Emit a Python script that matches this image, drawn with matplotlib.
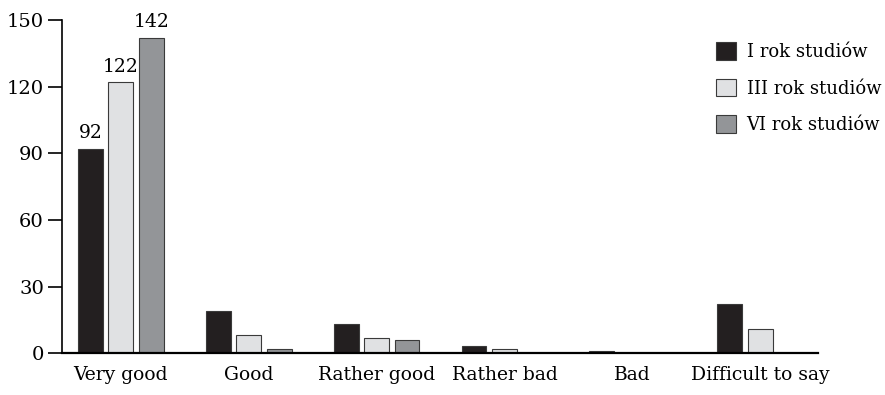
import numpy as np
import matplotlib.pyplot as plt

categories = ['Very good', 'Good', 'Rather good', 'Rather bad', 'Bad', 'Difficult to say']
rok_1 = [92, 19, 13, 3, 1, 22]
rok_3 = [122, 8, 7, 2, 0, 11]
rok_6 = [142, 2, 6, 0, 0, 0]
series_names = ['I rok studiów', 'III rok studiów', 'VI rok studiów']
colors = ['#231f20', '#e0e1e3', '#939598']

plt.rcParams['font.family'] = ['DejaVu Serif']

fig = plt.figure(figsize=(8.85, 3.95), dpi=100)
ax = fig.add_axes([0.070, 0.106, 0.854, 0.843])

x = np.arange(len(categories))
width = 0.195
step = 0.238
for i, (vals, name, col) in enumerate(zip([rok_1, rok_3, rok_6], series_names, colors)):
    pos = x + (i - 1) * step
    ax.bar(pos, vals, width, color=col, edgecolor='#3a3a3a', linewidth=0.8, label=name)
    # only the big group has value labels
    ax.text(pos[0], vals[0] + 3, str(vals[0]), ha='center', va='bottom', fontsize=13.5)

ax.set_xlim(-0.46, 5.45)
ax.set_ylim(0, 150)
ax.set_yticks([0, 30, 60, 90, 120, 150])
ax.set_xticks(x)
ax.set_xticklabels(categories, fontsize=13.5)
ax.tick_params(axis='y', labelsize=14, length=10, width=1.2, direction='out', pad=3)
ax.tick_params(axis='x', length=0, pad=9)
ax.spines['top'].set_visible(False)
ax.spines['right'].set_visible(False)
ax.spines['left'].set_linewidth(1.2)
ax.spines['bottom'].set_linewidth(1.6)

fig.legend(loc='upper left', bbox_to_anchor=(0.809, 0.893), frameon=False, fontsize=13,
           borderpad=0, borderaxespad=0, handlelength=1.1, handleheight=1.1,
           labelspacing=0.98, handletextpad=0.6)

fig.savefig('out.png', dpi=100)
